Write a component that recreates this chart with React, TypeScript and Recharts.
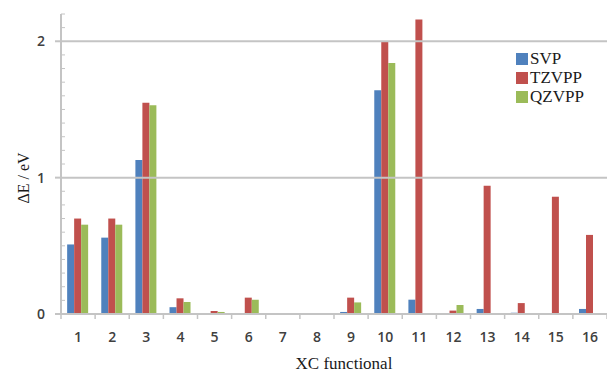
import React from 'react';
import {
  BarChart,
  Bar,
  XAxis,
  YAxis,
  Legend,
  ReferenceLine,
} from 'recharts';

const functionals = ['1', '2', '3', '4', '5', '6', '7', '8', '9', '10', '11', '12', '13', '14', '15', '16'];
const svp = [0.51, 0.56, 1.13, 0.05, 0, 0, 0, 0, 0.015, 1.64, 0.105, 0, 0.037, 0.01, 0, 0.037];
const tzvpp = [0.7, 0.7, 1.55, 0.115, 0.022, 0.12, 0, 0, 0.12, 2.0, 2.16, 0.025, 0.94, 0.08, 0.86, 0.58];
const qzvpp = [0.655, 0.655, 1.53, 0.088, 0.015, 0.105, 0, 0, 0.085, 1.84, 0, 0.066, 0, 0, 0, 0];
const yTicks = [0, 0.1, 0.2, 0.3, 0.4, 0.5, 0.6, 0.7, 0.8, 0.9, 1, 1.1, 1.2, 1.3, 1.4, 1.5, 1.6, 1.7, 1.8, 1.9, 2, 2.1, 2.2];
const yLabels = [0, 1, 2];

const series = [
  { key: 'svp', name: 'SVP', color: '#4F81BD' },
  { key: 'tzvpp', name: 'TZVPP', color: '#C0504D' },
  { key: 'qzvpp', name: 'QZVPP', color: '#9BBB59' },
];

const data = functionals.map((name, i) => ({
  name,
  svp: svp[i],
  tzvpp: tzvpp[i],
  qzvpp: qzvpp[i],
}));

const W = 607;
const H = 374;
const PLOT_LEFT = 61;
const STEP = (W - PLOT_LEFT) / functionals.length;
const AXIS = '#c4c4c4';
const SERIF = '"Liberation Serif", "Times New Roman", serif';
const SANS = '"Open Sans", "Liberation Sans", sans-serif';

function XTick(props: any) {
  const { x, y, payload, index } = props;
  const left = x - STEP / 2;
  return (
    <g>
      <line x1={left} x2={left} y1={y} y2={y + 5} stroke={AXIS} strokeWidth={1.5} />
      {index === functionals.length - 1 && (
        <line x1={x + STEP / 2} x2={x + STEP / 2} y1={y} y2={y + 5} stroke={AXIS} strokeWidth={1.5} />
      )}
      <text
        x={x}
        y={y + 28}
        textAnchor='middle'
        fontFamily={SANS}
        fontWeight={600}
        fontSize={14}
        fill='#404040'
      >
        {payload.value}
      </text>
    </g>
  );
}

function YTick(props: any) {
  const { x, y, payload } = props;
  const major = yLabels.includes(payload.value);
  if (major) {
    return (
      <g>
        <line x1={x - 6} x2={x} y1={y} y2={y} stroke={AXIS} strokeWidth={2} />
        <text
          x={x - 20}
          y={y + 5}
          textAnchor='middle'
          fontFamily={SANS}
          fontWeight={600}
          fontSize={14}
          fill='#404040'
        >
          {payload.value}
        </text>
      </g>
    );
  }
  return <line x1={x} x2={x + 4} y1={y} y2={y} stroke={AXIS} strokeWidth={1} />;
}

function LegendBox() {
  return (
    <div style={{ fontFamily: SERIF, fontSize: 17, color: '#1a1a1a', lineHeight: '19px' }}>
      {series.map((s) => (
        <div key={s.key} style={{ display: 'flex', alignItems: 'center', height: 19 }}>
          <span style={{ width: 12, height: 12, background: s.color, display: 'inline-block', marginRight: 2 }} />
          <span>{s.name}</span>
        </div>
      ))}
    </div>
  );
}

export default function App() {
  return (
    <div style={{ position: 'absolute', left: 0, top: 0, width: W, height: H, background: '#fff' }}>
      <BarChart
        width={W}
        height={H}
        data={data}
        margin={{ top: 14, right: 0, bottom: 0, left: 0 }}
        barCategoryGap='18%'
        barGap={0}
      >
        <XAxis
          dataKey='name'
          height={60}
          interval={0}
          tickSize={0}
          tickMargin={0}
          tickLine={false}
          tick={<XTick />}
          axisLine={{ stroke: AXIS, strokeWidth: 2 }}
          label={{
            content: () => (
              <text x={344} y={369} textAnchor='middle' fontFamily={SERIF} fontSize={17} fill='#1a1a1a'>
                XC functional
              </text>
            ),
          }}
        />
        <YAxis
          type='number'
          domain={[0, 2.2]}
          ticks={yTicks}
          interval={0}
          width={PLOT_LEFT}
          tickSize={0}
          tickMargin={0}
          tickLine={false}
          tick={<YTick />}
          axisLine={{ stroke: AXIS, strokeWidth: 2 }}
          allowDataOverflow
          label={{
            content: () => (
              <text
                x={23}
                y={178}
                transform='rotate(-90, 23, 178)'
                textAnchor='middle'
                dominantBaseline='central'
                fontFamily={SERIF}
                fontSize={16}
                fill='#1a1a1a'
              >
                ΔE / eV
              </text>
            ),
          }}
        />
        <ReferenceLine y={1} stroke={AXIS} strokeWidth={2} />
        <ReferenceLine y={2} stroke={AXIS} strokeWidth={2} />
        <Legend
          layout='vertical'
          align='center'
          verticalAlign='middle'
          content={<LegendBox />}
          wrapperStyle={{ left: 516, top: 49, width: 'auto', height: 'auto' }}
        />
        {series.map((s) => (
          <Bar key={s.key} dataKey={s.key} name={s.name} fill={s.color} isAnimationActive={false} />
        ))}
      </BarChart>
    </div>
  );
}
